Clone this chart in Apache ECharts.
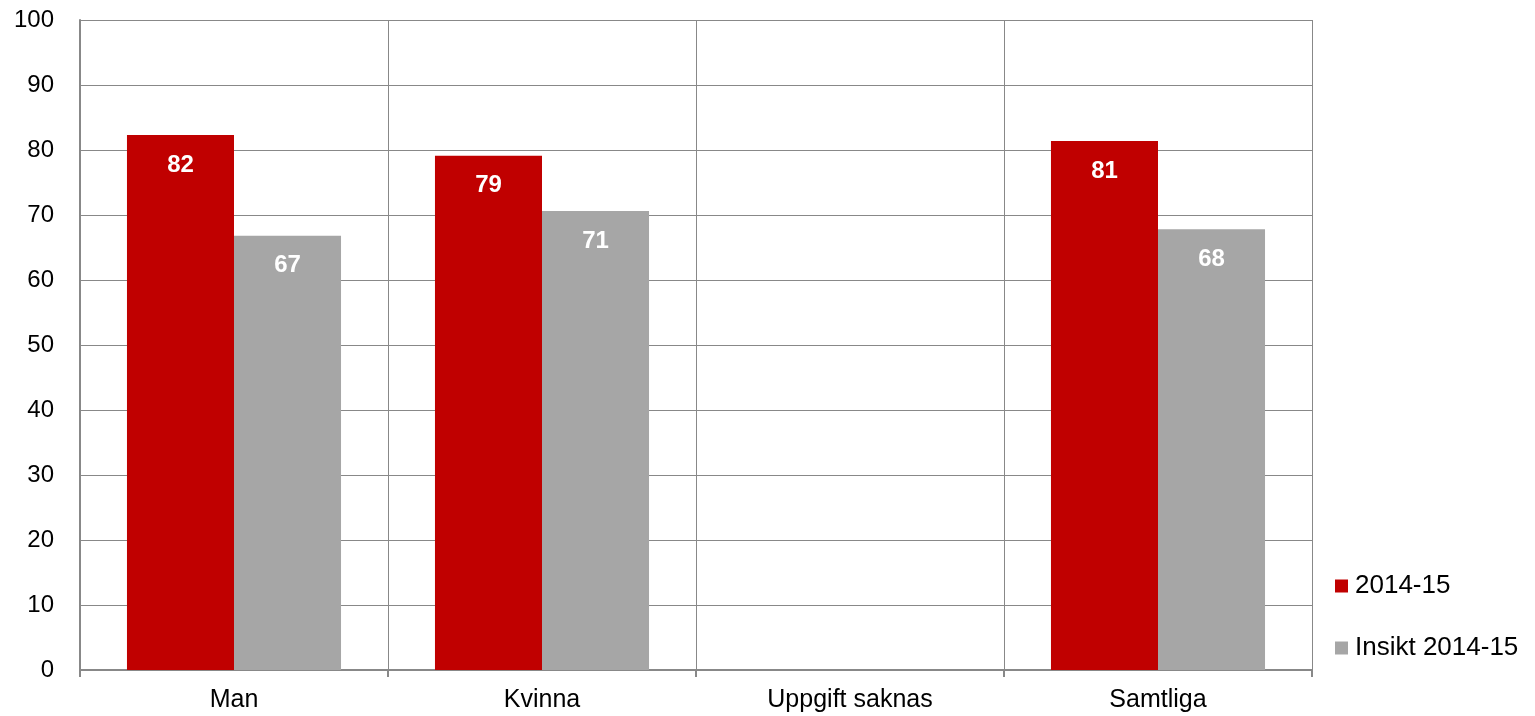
<!DOCTYPE html>
<html><head><meta charset="utf-8">
<script src="https://cdn.jsdelivr.net/npm/echarts@6/dist/echarts.min.js"></script>
<style>html,body{margin:0;padding:0;background:#fff}#c{width:1535px;height:716px}</style>
</head><body><div id="c"></div>
<script>
const categories = ['Man', 'Kvinna', 'Uppgift saknas', 'Samtliga'];
const series2014 = [82.3, 79.1, null, 81.4];
const seriesInsikt = [66.8, 70.6, null, 67.8];
const seriesNames = ['2014-15', 'Insikt 2014-15'];
const labels2014 = ['82', '79', '', '81'];
const labelsInsikt = ['67', '71', '', '68'];

const font = '"Liberation Sans", Arial, sans-serif';
const chart = echarts.init(document.getElementById('c'));
function mk(name, vals, labs, color) {
  return {
    name, type: 'bar', data: vals, barGap: '0%', barCategoryGap: '30.5%',
    itemStyle: { color },
    label: { show: true, position: 'insideTop', distance: 18, color: '#fff', fontWeight: 'bold',
      fontSize: 24, fontFamily: font, formatter: p => labs[p.dataIndex] }
  };
}
chart.setOption({
  animation: false,
  grid: { left: 80, right: 223, top: 20, bottom: 46 },
  legend: {
    orient: 'vertical', left: 1330, top: 568, itemWidth: 13, itemHeight: 13, itemGap: 36,
    icon: 'rect',
    textStyle: { fontSize: 26, fontFamily: font, color: '#000', padding: [0,0,0,2] },
    data: seriesNames
  },
  xAxis: {
    type: 'category', data: categories,
    axisLine: { lineStyle: { color: '#888', width: 2 } },
    axisTick: { show: true, length: 7, lineStyle: { color: '#888', width: 2 } },
    axisLabel: { fontSize: 25, fontFamily: font, color: '#000', margin: 18 },
    splitLine: { show: true, lineStyle: { color: '#888', width: 1 } }
  },
  yAxis: {
    type: 'value', min: 0, max: 100, interval: 10,
    axisLine: { show: true, lineStyle: { color: '#888', width: 2 } },
    axisTick: { show: false },
    axisLabel: { fontSize: 24, fontFamily: font, color: '#000', margin: 26 },
    splitLine: { lineStyle: { color: '#888', width: 1 } }
  },
  series: [
    mk(seriesNames[0], series2014, labels2014, '#C00000'),
    mk(seriesNames[1], seriesInsikt, labelsInsikt, '#A6A6A6')
  ]
});
</script></body></html>
